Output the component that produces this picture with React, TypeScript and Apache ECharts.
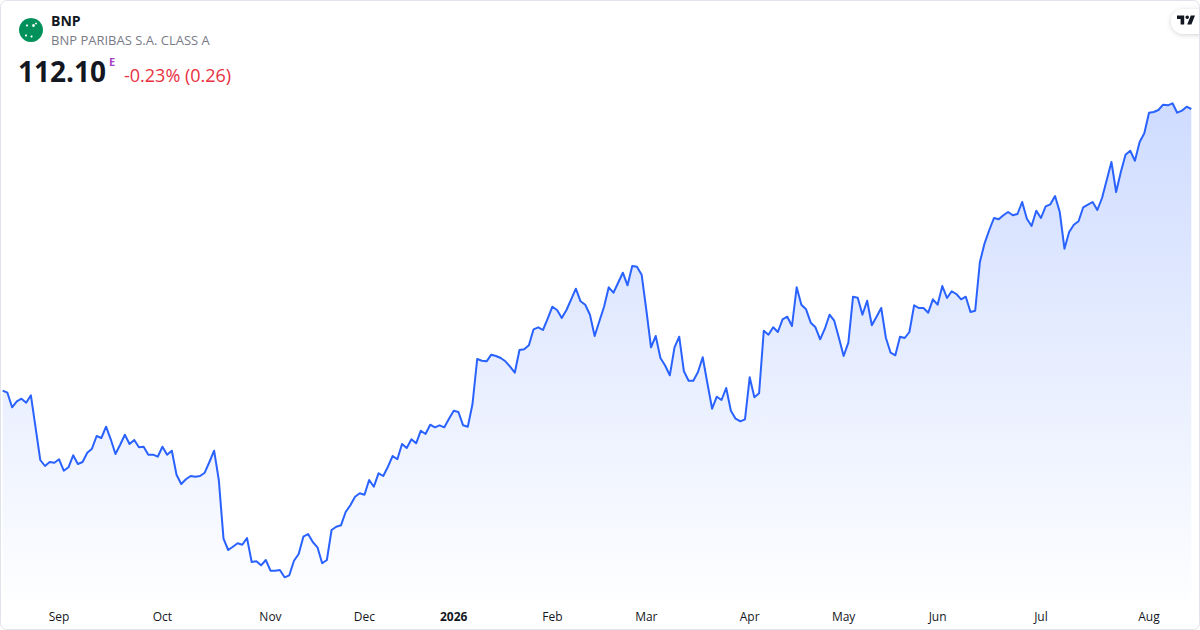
import React, { useEffect, useRef } from "react";
import * as echarts from "echarts";

// Daily closes (one per trading day)
const closes: number[] = [
  83.93, 83.73, 82.27, 82.87, 83.13, 82.73, 83.47, 80.23, 77.0, 76.4,
  76.8, 76.73, 77.07, 75.93, 76.27, 77.47, 76.6, 76.8, 77.73, 78.13,
  79.4, 79.2, 80.33, 79.07, 77.6, 78.53, 79.53, 78.6, 79.0, 78.27,
  78.33, 77.53, 77.53, 77.33, 78.33, 77.53, 77.93, 75.53, 74.6, 75.07,
  75.4, 75.33, 75.4, 75.73, 76.8, 77.93, 75.0, 69.13, 68.0, 68.33,
  68.67, 68.53, 69.2, 66.8, 66.87, 66.47, 67.0, 65.93, 65.93, 66.0,
  65.27, 65.47, 66.93, 67.6, 69.33, 69.6, 68.8, 68.27, 66.67, 67.0,
  70.0, 70.33, 70.47, 71.8, 72.47, 73.33, 73.67, 73.53, 75.0, 74.33,
  75.67, 75.4, 76.33, 77.4, 77.07, 78.6, 78.2, 79.07, 78.67, 79.93,
  79.6, 80.53, 80.27, 80.47, 80.27, 81.13, 81.93, 81.8, 80.47, 80.33,
  82.6, 87.1, 86.93, 86.87, 87.53, 87.4, 87.2, 86.87, 86.33, 85.73,
  88.0, 88.07, 88.47, 90.07, 90.27, 90.0, 91.13, 92.33, 92.0, 91.2,
  92.0, 93.07, 94.13, 92.87, 92.53, 91.53, 89.4, 90.87, 92.33, 94.27,
  93.73, 94.73, 95.73, 94.47, 96.4, 96.33, 95.53, 92.0, 88.27, 89.4,
  87.2, 86.45, 85.47, 88.27, 89.33, 85.87, 84.93, 84.93, 85.8, 87.27,
  84.67, 82.13, 83.33, 83.0, 84.2, 81.93, 81.13, 80.87, 81.07, 85.27,
  83.27, 83.67, 89.93, 89.53, 90.27, 89.8, 91.07, 91.33, 90.4, 94.27,
  92.53, 92.07, 90.73, 90.27, 89.07, 90.13, 91.53, 90.93, 89.2, 87.4,
  88.73, 93.33, 93.23, 91.53, 92.93, 90.47, 91.33, 92.2, 89.2, 87.73,
  87.47, 89.33, 89.2, 89.8, 92.47, 92.2, 92.2, 91.73, 93.07, 92.53,
  94.4, 93.2, 93.87, 93.6, 93.07, 93.33, 91.8, 91.93, 96.8, 98.67,
  100.0, 101.2, 101.07, 101.47, 101.8, 101.47, 101.6, 102.8, 101.13, 100.4,
  101.93, 101.2, 102.37, 102.57, 103.4, 101.8, 98.13, 99.8, 100.53, 100.87,
  102.27, 102.53, 102.8, 102.0, 103.2, 105.0, 106.8, 103.8, 105.8, 107.53,
  107.93, 106.93, 108.8, 109.67, 111.73, 111.8, 112.0, 112.53, 112.47, 112.67,
  111.73, 111.93, 112.33, 112.1,
];

// Trading-day index of the first session of each month, and its label
const monthTickIndex: number[] = [12, 34, 57, 77, 96, 117, 137, 159, 179, 199, 221, 244];
const monthTickLabel: string[] = ["Sep", "Oct", "Nov", "Dec", "2026", "Feb", "Mar", "Apr", "May", "Jun", "Jul", "Aug"];
const yearLabels: string[] = ["2026"];

const symbol = "BNP";
const description = "BNP PARIBAS S.A. CLASS A";
const lastPrice = "112.10";
const changeText = "-0.23% (0.26)";

const FONT = "'Open Sans', 'Noto Sans', sans-serif";
const TV_LOGO =
  "M14 6H2v6h6v9h6V6Zm12 15h-7l6-15h7l-6 15Zm-7-9a3 3 0 1 0 0-6 3 3 0 0 0 0 6Z";

export default function App() {
  const ref = useRef<HTMLDivElement>(null);

  useEffect(() => {
    if (!ref.current) return;
    try {
      echarts.graphic.registerShape("tvlogo", echarts.graphic.extendPath(TV_LOGO, {}) as any);
    } catch (e) {
      /* already registered */
    }
    const chart = echarts.init(ref.current, null, { renderer: "svg" });
    const categories = closes.map((_, i) => String(i));
    const tickMap = new Map<number, string>();
    monthTickIndex.forEach((idx, k) => tickMap.set(idx, monthTickLabel[k]));

    chart.setOption({
      animation: false,
      backgroundColor: "#ffffff",
      textStyle: { fontFamily: FONT },
      grid: { left: 2.7, right: 8.7, top: 90, bottom: 30 },
      xAxis: {
        type: "category",
        data: categories,
        boundaryGap: false,
        axisLine: { show: false },
        axisTick: { show: false },
        splitLine: { show: false },
        axisLabel: {
          interval: (index: number) => tickMap.has(index),
          formatter: (_v: string, index: number) => {
            const t = tickMap.get(index) ?? "";
            return yearLabels.includes(t) ? `{b|${t}}` : t;
          },
          color: "#131722",
          fontSize: 12,
          fontFamily: FONT,
          margin: 10,
          rich: {
            b: { fontWeight: "bold", fontSize: 12, color: "#131722", fontFamily: FONT },
          },
        },
      },
      yAxis: {
        type: "value",
        min: 63,
        max: 114,
        show: false,
        splitLine: { show: false },
      },
      series: [
        {
          type: "line",
          data: closes,
          showSymbol: false,
          symbol: "none",
          lineStyle: { color: "#2962ff", width: 2, join: "round" },
          itemStyle: { color: "#2962ff" },
          areaStyle: {
            color: new echarts.graphic.LinearGradient(0, 0, 0, 1, [
              { offset: 0, color: "rgba(41,98,255,0.32)" },
              { offset: 1, color: "rgba(41,98,255,0.01)" },
            ]),
          },
        },
      ],
      graphic: [
        {
          type: "rect",
          z: 100,
          silent: true,
          shape: { x: 0.5, y: 0.5, width: 1199, height: 629, r: 6 },
          style: { fill: "none", stroke: "#e0e3eb", lineWidth: 1 },
        },
        {
          type: "circle",
          shape: { cx: 31, cy: 30, r: 12 },
          style: { fill: "#00915a" },
        },
        { type: "circle", shape: { cx: 27, cy: 25.5, r: 1.1 }, style: { fill: "#ffffff" } },
        { type: "circle", shape: { cx: 33.5, cy: 25.5, r: 1.4 }, style: { fill: "#ffffff" } },
        { type: "circle", shape: { cx: 26, cy: 35.5, r: 1.1 }, style: { fill: "#ffffff" } },
        { type: "circle", shape: { cx: 31.5, cy: 36.5, r: 1.0 }, style: { fill: "#ffffff" } },
        { type: "circle", shape: { cx: 36, cy: 23.5, r: 0.9 }, style: { fill: "#ffffff" } },
        {
          type: "text",
          x: 51,
          y: 20,
          style: {
            text: symbol,
            fontSize: 14,
            fontWeight: "bold",
            fill: "#131722",
            fontFamily: FONT,
            verticalAlign: "middle",
          },
        },
        {
          type: "text",
          x: 51,
          y: 40,
          style: {
            text: description,
            fontSize: 13,
            fill: "#787b86",
            fontFamily: FONT,
            verticalAlign: "middle",
          },
        },
        {
          type: "text",
          x: 18,
          y: 71,
          style: {
            text: lastPrice,
            fontSize: 28,
            fontWeight: "bold",
            fill: "#131722",
            fontFamily: FONT,
            verticalAlign: "middle",
          },
        },
        {
          type: "text",
          x: 109,
          y: 61,
          style: {
            text: "E",
            fontSize: 11,
            fontWeight: "bold",
            fill: "#a83ec4",
            fontFamily: FONT,
            verticalAlign: "middle",
          },
        },
        {
          type: "text",
          x: 124,
          y: 75,
          style: {
            text: changeText,
            fontSize: 18,
            fill: "#e8303f",
            fontFamily: FONT,
            verticalAlign: "middle",
          },
        },
        {
          type: "rect",
          shape: { x: 1171, y: 9, width: 44, height: 25, r: 12.5 },
          style: {
            fill: "#ffffff",
            shadowBlur: 5,
            shadowColor: "rgba(0,0,0,0.18)",
            shadowOffsetY: 1,
          },
        },
        {
          type: "tvlogo",
          x: 1175.8,
          y: 11.9,
          scaleX: 0.6,
          scaleY: 0.6,
          style: { fill: "#131722" },
        },
      ],
    });

    return () => {
      chart.dispose();
    };
  }, []);

  return (
    <div
      ref={ref}
      style={{ position: "absolute", left: 0, top: 0, width: 1200, height: 630, background: "#fff" }}
    />
  );
}
